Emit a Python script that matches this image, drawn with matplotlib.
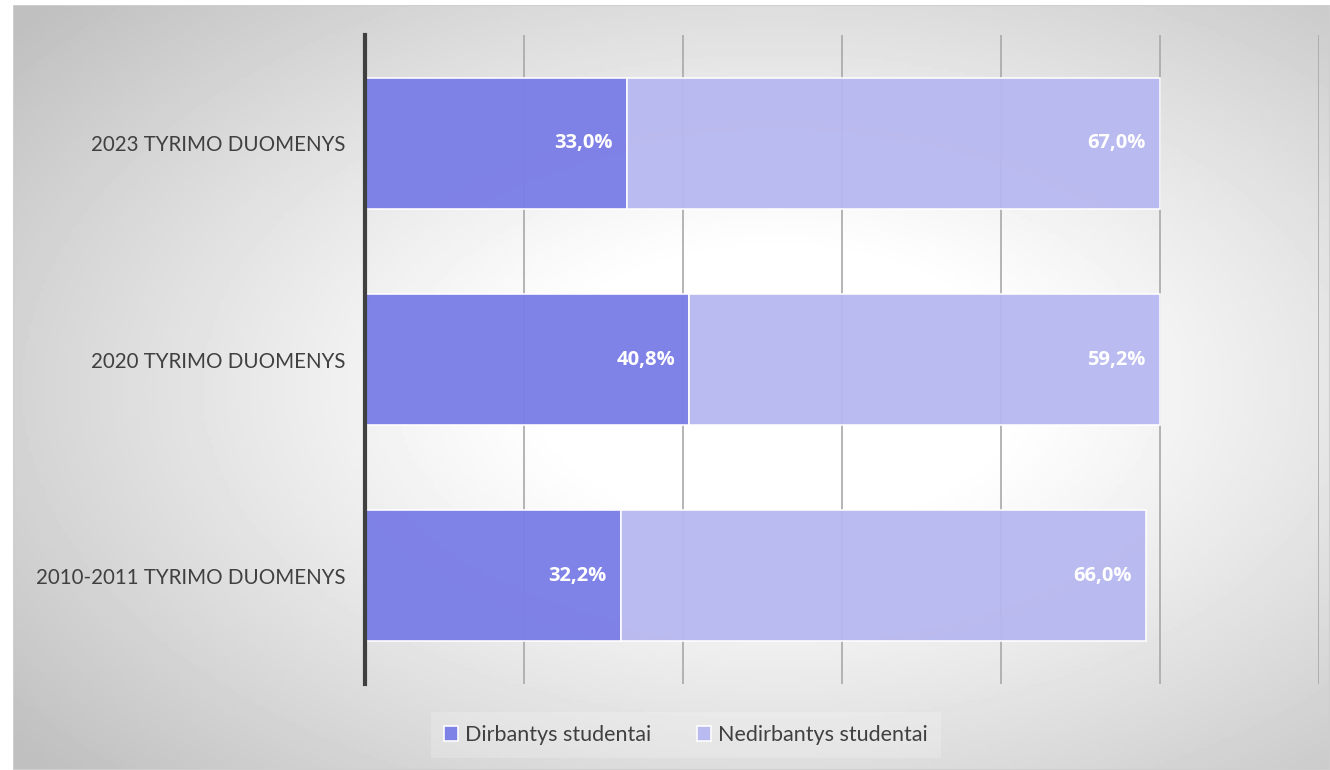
import numpy as np
import matplotlib.pyplot as plt

plt.rcParams['font.family'] = ['Lato', 'DejaVu Sans']

# Data
categories = ['2010-2011 TYRIMO DUOMENYS', '2020 TYRIMO DUOMENYS', '2023 TYRIMO DUOMENYS']
working = [32.2, 40.8, 33.0]
not_working = [66.0, 59.2, 67.0]
series_names = ['Dirbantys studentai', 'Nedirbantys studentai']
colors = ['#7b7ee6', '#b7b8f0']

fig = plt.figure(figsize=(13.3, 7.7), dpi=100)

# radial gradient background
bg = fig.add_axes([13 / 1330, 0, 1317 / 1330, 765 / 770])
xx, yy = np.meshgrid(np.linspace(0, 1, 400), np.linspace(0, 1, 240))
r = np.sqrt(((xx - 0.58) / 0.55) ** 2 + ((yy - 0.5) / 0.55) ** 2)
shade = np.clip(1 - 0.24 * np.clip(r - 0.32, 0, None) ** 1.1, 0.75, 1.0)
bg.imshow(shade, cmap='gray', vmin=0, vmax=1, extent=[0, 1, 0, 1], aspect='auto')
bg.set_axis_off()
bg.add_patch(plt.Rectangle((0, 0), 1, 1, fill=False, edgecolor='#cfcfcf', linewidth=1.5,
                           transform=bg.transAxes))

ax = fig.add_axes([365 / 1330, 1 - 684 / 770, (1319 - 365) / 1330, (684 - 35) / 770])
ax.patch.set_alpha(0)
y = np.arange(len(categories))

ax.barh(y, working, height=0.605, color=colors[0], alpha=0.97, edgecolor='white',
        linewidth=1.2, label=series_names[0], zorder=2)
ax.barh(y, not_working, left=working, height=0.605, color=colors[1], alpha=0.95,
        edgecolor='white', linewidth=1.2, label=series_names[1], zorder=2)

lab_font = ['Open Sans', 'DejaVu Sans']
for i in range(len(categories)):
    ax.text(working[i] - 1.8, y[i], f'{working[i]:.1f}%'.replace('.', ','), ha='right',
            va='center', color='white', fontsize=14.5, fontweight='bold',
            family=lab_font, zorder=3)
    end = working[i] + not_working[i]
    ax.text(end - 1.8, y[i], f'{not_working[i]:.1f}%'.replace('.', ','), ha='right',
            va='center', color='white', fontsize=14.5, fontweight='bold',
            family=lab_font, zorder=3)

ax.set_xlim(0, 120)
ax.set_ylim(-0.5, 2.5)
ax.set_xticks(np.arange(20, 121, 20))
ax.tick_params(axis='x', length=0, labelbottom=False)
ax.grid(axis='x', color='#a8a8a8', linewidth=1.2, zorder=1)
ax.set_axisbelow(True)
ax.set_yticks(y)
ax.set_yticklabels(categories, fontsize=14.8, color='#404040')
ax.tick_params(axis='y', length=0, pad=14)
for s in ['top', 'right', 'bottom']:
    ax.spines[s].set_visible(False)
ax.spines['left'].set_color('#404040')
ax.spines['left'].set_linewidth(3)

leg = fig.legend(loc='center', bbox_to_anchor=(686 / 1330, 1 - 735 / 770), ncol=2,
                 fontsize=15.5, frameon=True, handlelength=0.65, handleheight=0.65,
                 columnspacing=2.1, handletextpad=0.35, borderpad=0.6)
leg.get_frame().set_facecolor('white')
leg.get_frame().set_alpha(0.2)
leg.get_frame().set_edgecolor('none')
leg.get_frame().set_boxstyle('square', pad=0)
for t in leg.get_texts():
    t.set_color('#404040')

fig.savefig('out.png', dpi=100)
